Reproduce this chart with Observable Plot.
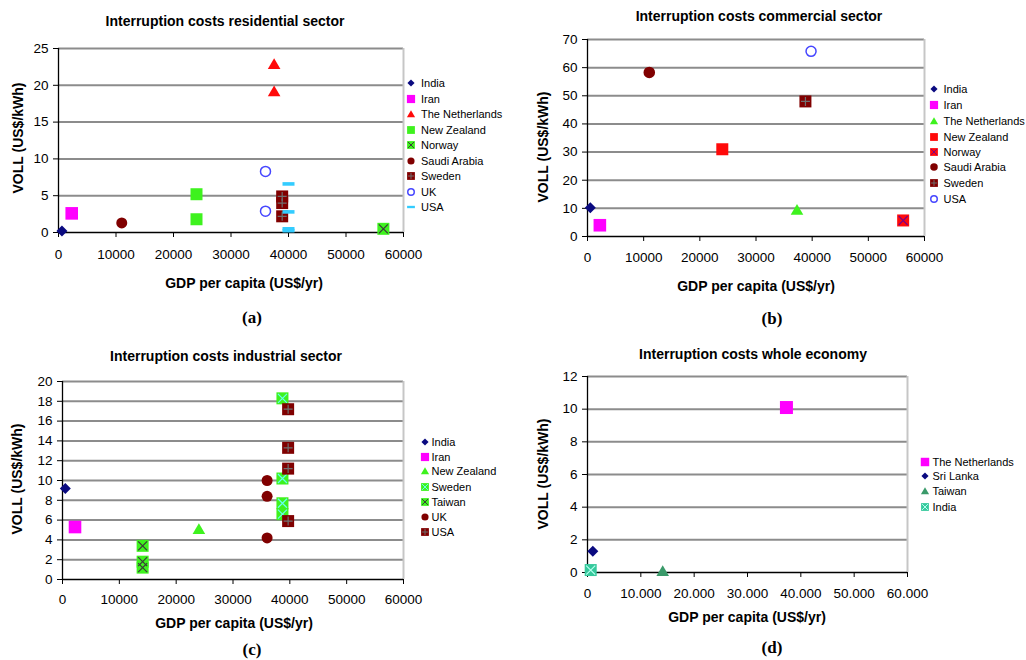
<!DOCTYPE html>
<html><head><meta charset="utf-8">
<script src="https://cdn.jsdelivr.net/npm/d3@7"></script>
<script src="https://cdn.jsdelivr.net/npm/@observablehq/plot@0.6"></script>
<style>
body{margin:0;background:#fff;font-family:"Liberation Sans",Arial,sans-serif;color:#000;}
#page{position:relative;width:1026px;height:660px;overflow:hidden;background:#fff;}
.abs{position:absolute;white-space:nowrap;line-height:1;}
.ctr{transform:translate(-50%,-50%);}
.title{font-weight:bold;font-size:14px;}
.axt{font-weight:bold;font-size:14px;}
.yt{transform:translate(-50%,-50%) rotate(-90deg);}
.tag{font-family:"Liberation Serif","Times New Roman",serif;font-weight:bold;font-size:17px;}
.leg{font-size:11px;transform:translateY(-50%);}
.plot{position:absolute;}
</style></head>
<body><div id="page"></div>
<script>
// ---------- DATA ----------
// (a) residential sector
const resCountry = ["India","Iran","Saudi Arabia","New Zealand","New Zealand","The Netherlands","The Netherlands","UK","UK","Sweden","Sweden","Sweden","USA","USA","USA","USA","Norway"];
const resGdp     = [600,2300,11000,24000,24000,37500,37500,36000,36000,38900,38900,38900,40000,40000,40000,40000,56500];
const resVoll    = [0.2,2.6,1.3,5.2,1.8,22.9,19.2,8.3,2.9,4.9,4.0,2.2,6.6,2.8,0.5,0.25,0.5];
const resLegend  = ["India","Iran","The Netherlands","New Zealand","Norway","Saudi Arabia","Sweden","UK","USA"];

// (b) commercial sector
const comCountry = ["India","Iran","Saudi Arabia","New Zealand","The Netherlands","Sweden","USA","Norway"];
const comGdp     = [500,2200,11000,24000,37300,38800,39800,56200];
const comVoll    = [10.2,4.0,58.3,31.0,9.5,48.0,65.8,5.7];
const comLegend  = ["India","Iran","The Netherlands","New Zealand","Norway","Saudi Arabia","Sweden","USA"];

// (c) industrial sector
const indCountry = ["India","Iran","Taiwan","Taiwan","Taiwan","New Zealand","UK","UK","UK","Sweden","Sweden","Sweden","Sweden","USA","USA","USA","USA"];
const indGdp     = [500,2200,14100,14100,14100,24000,36000,36000,36000,38700,38700,38700,38700,39700,39700,39700,39700];
const indVoll    = [9.2,5.3,3.4,1.8,1.2,5.1,10.0,8.4,4.2,18.3,10.2,7.7,6.6,17.2,13.3,11.2,5.9];
const indLegend  = ["India","Iran","New Zealand","Sweden","Taiwan","UK","USA"];

// (d) whole economy
const ecoCountry = ["The Netherlands","Sri Lanka","Taiwan","India"];
const ecoGdp     = [37300,1000,14100,600];
const ecoVoll    = [10.1,1.3,0.1,0.15];
const ecoLegend  = ["The Netherlands","Sri Lanka","Taiwan","India"];

const xTicks = [0,10000,20000,30000,40000,50000,60000];

// ---------- STYLES ----------
const NAVY="#0a0a80", MAG="#ff00ff", RED="#ff0a0a", GREEN="#3ef21e", DRED="#800000",
      BLUE="#4646ff", CYAN="#33ccff", SEA="#3a9a6a", TEAL="#36c99c";

const rad = s => Math.sqrt(s/Math.PI);
const SYM = {
  square:{draw(c,s){const r=rad(s);c.rect(-r,-r,2*r,2*r);}},
  diamond:{draw(c,s){const r=rad(s);c.moveTo(0,-r);c.lineTo(r,0);c.lineTo(0,r);c.lineTo(-r,0);c.closePath();}},
  triangle:{draw(c,s){const r=rad(s);c.moveTo(0,-r*0.9);c.lineTo(r,r*0.8);c.lineTo(-r,r*0.8);c.closePath();}},
  circle:{draw(c,s){const r=rad(s);c.moveTo(r,0);c.arc(0,0,r,0,2*Math.PI);}},
  dash:{draw(c,s){const r=rad(s);c.rect(-r,-r*0.3,2*r,r*0.6);}},
  x:{draw(c,s){const r=rad(s);c.moveTo(-r,-r);c.lineTo(r,r);c.moveTo(r,-r);c.lineTo(-r,r);}},
  plus:{draw(c,s){const r=rad(s);c.moveTo(-r,0);c.lineTo(r,0);c.moveTo(0,-r);c.lineTo(0,r);}}
};

const resStyle = {
  "India":{shape:"diamond",fill:NAVY,r:5.5},
  "Iran":{shape:"square",fill:MAG,r:6.3},
  "The Netherlands":{shape:"triangle",fill:RED,r:6.3},
  "New Zealand":{shape:"square",fill:GREEN,r:6},
  "Norway":{shape:"square",fill:GREEN,r:6,over:"x",oc:"#3a3a3a"},
  "Saudi Arabia":{shape:"circle",fill:DRED,r:5.5},
  "Sweden":{shape:"square",fill:DRED,r:6,over:"plus",oc:"#6f6f6f"},
  "UK":{shape:"circle",fill:"none",stroke:BLUE,sw:1.5,r:5},
  "USA":{shape:"dash",fill:CYAN,r:6}
};
const comStyle = {
  "India":{shape:"diamond",fill:NAVY,r:5.5},
  "Iran":{shape:"square",fill:MAG,r:6.3},
  "The Netherlands":{shape:"triangle",fill:GREEN,r:6.3},
  "New Zealand":{shape:"square",fill:RED,r:6},
  "Norway":{shape:"square",fill:RED,r:6,over:"x",oc:"#800080"},
  "Saudi Arabia":{shape:"circle",fill:DRED,r:5.8},
  "Sweden":{shape:"square",fill:DRED,r:6,over:"plus",oc:"#6f6f6f"},
  "USA":{shape:"circle",fill:"none",stroke:BLUE,sw:1.5,r:5}
};
const indStyle = {
  "India":{shape:"diamond",fill:NAVY,r:5.5},
  "Iran":{shape:"square",fill:MAG,r:6.3},
  "New Zealand":{shape:"triangle",fill:GREEN,r:6.3},
  "Sweden":{shape:"square",fill:GREEN,r:6,over:"x",oc:"#66ffee"},
  "Taiwan":{shape:"square",fill:GREEN,r:6,over:"x",oc:"#3a3a3a"},
  "UK":{shape:"circle",fill:DRED,r:5.5},
  "USA":{shape:"square",fill:DRED,r:6,over:"plus",oc:"#6f6f6f"}
};
const ecoStyle = {
  "The Netherlands":{shape:"square",fill:MAG,r:6.5},
  "Sri Lanka":{shape:"diamond",fill:NAVY,r:5.5},
  "Taiwan":{shape:"triangle",fill:SEA,r:6.3},
  "India":{shape:"square",fill:TEAL,r:6,over:"x",oc:"#b8fff0"}
};

const plain = d => String(d);
const dotted = d => d===0 ? "0" : d3.format(",")(d).replace(/,/g,".");

const panels = [
 {left:0,top:0,width:510,height:330,m:[48,107,98,58],ymax:25,yTicks:[0,5,10,15,20,25],xfmt:plain,pad:12,
  country:resCountry,gdp:resGdp,voll:resVoll,legend:resLegend,style:resStyle,
  title:["Interruption costs residential sector",225,21],xt:[244,283],yt:[18,138],tag:["(a)",252,317],
  leg:{mx:411,tx:421,ys:[83.3,99,114.3,129.5,145,160.5,176,191.5,206.7]}},
 {left:510,top:0,width:516,height:330,m:[39,102,94,77],ymax:70,yTicks:[0,10,20,30,40,50,60,70],xfmt:plain,pad:11,
  country:comCountry,gdp:comGdp,voll:comVoll,legend:comLegend,style:comStyle,
  title:["Interruption costs commercial sector",759,16],xt:[756,286],yt:[543,147],tag:["(b)",772,318],
  leg:{mx:934,tx:943.5,ys:[89.3,105.3,121.3,136.5,152,167,182.7,198.7]}},
 {left:0,top:330,width:510,height:330,m:[51,107,81,62],ymax:20,yTicks:[0,2,4,6,8,10,12,14,16,18,20],xfmt:plain,pad:10,
  country:indCountry,gdp:indGdp,voll:indVoll,legend:indLegend,style:indStyle,
  title:["Interruption costs industrial sector",226,356],xt:[234,623],yt:[17,479],tag:["(c)",252,649],
  leg:{mx:425,tx:431.5,ys:[441.7,456.7,471,486.7,501.7,516.7,531.7]}},
 {left:510,top:330,width:516,height:330,m:[46,119,88,77],ymax:12,yTicks:[0,2,4,6,8,10,12],xfmt:dotted,pad:11,
  country:ecoCountry,gdp:ecoGdp,voll:ecoVoll,legend:ecoLegend,style:ecoStyle,
  title:["Interruption costs whole economy",753,354],xt:[747,617],yt:[543,474],tag:["(d)",772,647],
  leg:{mx:925,tx:932.5,ys:[461.7,476,491.3,506.7]}}
];

const page = document.getElementById("page");
function addText(cls, text, x, y){
  const d = document.createElement("div");
  d.className = "abs " + cls; d.textContent = text;
  d.style.left = x+"px"; d.style.top = y+"px";
  page.appendChild(d); return d;
}
function legendSwatch(st, x, y){
  const k = 0.65;
  const svg = d3.create("svg").attr("width",14).attr("height",14)
    .style("position","absolute").style("left",(x-7)+"px").style("top",(y-7)+"px");
  const size = Math.PI*Math.pow(st.r*k,2);
  const p = d3.path(); SYM[st.shape].draw(p,size);
  svg.append("path").attr("transform","translate(7,7)").attr("d",p.toString())
    .attr("fill",st.fill).attr("stroke",st.stroke||"none").attr("stroke-width",st.sw||0);
  if (st.over){
    const q = d3.path(); SYM[st.over].draw(q, Math.PI*Math.pow(st.r*k*0.75,2));
    svg.append("path").attr("transform","translate(7,7)").attr("d",q.toString())
      .attr("fill","none").attr("stroke",st.oc).attr("stroke-width",1);
  }
  page.appendChild(svg.node());
}

for (const P of panels){
  const data = P.country.map((c,i)=>({country:c, gdp:P.gdp[i], voll:P.voll[i]}));
  const marks = [
    Plot.ruleY(P.yTicks.filter(t=>t>0), {stroke:"#8c8c8c", strokeWidth:2}),
    Plot.ruleX([60000], {stroke:"#c6c6c6", strokeWidth:2}),
    Plot.ruleY([0], {stroke:"#000", strokeWidth:1.3}),
    Plot.ruleX([0], {stroke:"#000", strokeWidth:1.3}),
    Plot.axisX({ticks:xTicks, tickSize:5, tickPadding:P.pad, tickFormat:P.xfmt, label:null}),
    Plot.axisY({ticks:P.yTicks, tickSize:5, tickPadding:5, tickFormat:plain, label:null})
  ];
  for (const c of P.legend){
    const st = P.style[c];
    const pts = data.filter(d=>d.country===c);
    marks.push(Plot.dot(pts,{x:"gdp",y:"voll",symbol:SYM[st.shape],r:st.r,
      fill:st.fill,stroke:st.stroke||"none",strokeWidth:st.sw||0}));
    if (st.over) marks.push(Plot.dot(pts,{x:"gdp",y:"voll",symbol:SYM[st.over],r:st.r*0.75,
      fill:"none",stroke:st.oc,strokeWidth:1.2}));
  }
  const chart = Plot.plot({
    width:P.width, height:P.height,
    marginTop:P.m[0], marginRight:P.m[1], marginBottom:P.m[2], marginLeft:P.m[3],
    x:{domain:[0,60000]}, y:{domain:[0,P.ymax]},
    style:{fontFamily:"'Liberation Sans', Arial, sans-serif", fontSize:"13.5px", color:"#000", background:"transparent", overflow:"visible"},
    marks
  });
  chart.classList.add("plot");
  chart.style.left = P.left+"px"; chart.style.top = P.top+"px";
  page.appendChild(chart);

  addText("title ctr", P.title[0], P.title[1], P.title[2]);
  addText("axt ctr", "GDP per capita (US$/yr)", P.xt[0], P.xt[1]);
  addText("axt yt", "VOLL (US$/kWh)", P.yt[0], P.yt[1]);
  addText("tag ctr", P.tag[0], P.tag[1], P.tag[2]);
  P.legend.forEach((c,i)=>{
    legendSwatch(P.style[c], P.leg.mx, P.leg.ys[i]);
    addText("leg", c, P.leg.tx, P.leg.ys[i]);
  });
}
</script>
</body></html>
